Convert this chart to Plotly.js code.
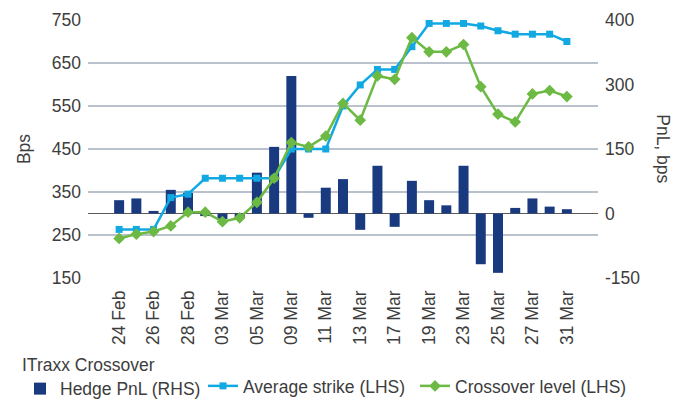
<!DOCTYPE html>
<html>
<head>
<meta charset="utf-8">
<script src="https://cdn.plot.ly/plotly-3.0.1.min.js"></script>
<style>html,body{margin:0;padding:0;background:#fff;}#chart{width:687px;height:400px;}</style>
</head>
<body>
<div id="chart"></div>
<script>
const dates = ["24 Feb","25 Feb","26 Feb","27 Feb","28 Feb","02 Mar","03 Mar","04 Mar","05 Mar","06 Mar",
  "09 Mar","10 Mar","11 Mar","12 Mar","13 Mar","16 Mar","17 Mar","18 Mar","19 Mar","20 Mar",
  "23 Mar","24 Mar","25 Mar","26 Mar","27 Mar","30 Mar","31 Mar"];
const hedgePnL = [31,35,6,55,48,-6,-13,-10,95,155,
  320,-10,60,80,-38,111,-31,76,31,19,
  111,-118,-138,13,35,16,10];
const averageStrike = [263,263,263,337,345,382,382,382,382,382,
  450,450,450,550,599,635,635,688,742,742,
  742,736,725,717,717,717,700];
const crossoverLevel = [242,252,258,271,303,303,281,290,326,382,
  465,455,480,556,517,620,612,709,676,676,
  693,595,531,513,578,586,572];
const xTickLabels = ["24 Feb","26 Feb","28 Feb","03 Mar","05 Mar","09 Mar","11 Mar","13 Mar","17 Mar","19 Mar","23 Mar","25 Mar","27 Mar","31 Mar"];
const leftTicks = [150,250,350,450,550,650,750];
const rightTickVals = [-150,0,150,300,450];
const rightTickText = ["-150","0","150","300","400"];

const FONT = "Liberation Sans, Arial, sans-serif";
const TXT = "#3d3d3d";
const FS = 17.5;

const traces = [
  {type:"bar", name:"Hedge PnL (RHS)", x:dates, y:hedgePnL, yaxis:"y", legend:"legend",
   marker:{color:"#1a3a80"}},
  {type:"scatter", mode:"lines+markers", name:"Average strike (LHS)", x:dates, y:averageStrike, yaxis:"y2", legend:"legend2",
   line:{color:"#12a9e3", width:2.5}, marker:{symbol:"square", size:7, color:"#12a9e3"}},
  {type:"scatter", mode:"lines+markers", name:"Crossover level (LHS)", x:dates, y:crossoverLevel, yaxis:"y2", legend:"legend3",
   line:{color:"#6cb944", width:2.5}, marker:{symbol:"diamond", size:9, color:"#6cb944"}}
];

const legBase = {orientation:"h", xref:"container", yref:"container", xanchor:"left", yanchor:"top",
  font:{size:FS, color:TXT}, bgcolor:"rgba(0,0,0,0)"};

const layout = {
  width:687, height:400,
  margin:{l:88, r:89, t:20, b:122, autoexpand:false},
  paper_bgcolor:"#fff", plot_bgcolor:"#fff",
  font:{family:FONT, size:FS, color:TXT},
  bargap:0.42,
  showlegend:true,
  xaxis:{type:"category", tickmode:"array", tickvals:xTickLabels, ticktext:xTickLabels,
    tickangle:-90, showgrid:false, showline:false, zeroline:false, ticks:"", automargin:false,
    ticklabelstandoff:8, tickfont:{size:FS, color:TXT}},
  yaxis:{side:"right", range:[-150,450], tickmode:"array", tickvals:rightTickVals, ticktext:rightTickText,
    showgrid:false, zeroline:true, zerolinecolor:"#5a5a5a", zerolinewidth:1.5, showline:false, automargin:false,
    ticks:"", ticklabelstandoff:6, tickfont:{size:FS, color:TXT}},
  yaxis2:{overlaying:"y", side:"left", range:[150,750], tickmode:"array", tickvals:leftTicks,
    showgrid:true, gridcolor:"#b9c1cc", gridwidth:1.5, zeroline:false, showline:false, automargin:false,
    ticks:"", ticklabelstandoff:6, tickfont:{size:FS, color:TXT},
    title:{text:"Bps", standoff:16, font:{size:FS, color:TXT}}},
  legend:Object.assign({}, legBase, {x:20/687, y:1-348/400,
    title:{text:"ITraxx Crossover", side:"top", font:{size:FS, color:TXT}}}),
  legend2:Object.assign({}, legBase, {x:203/687, y:1-368/400}),
  legend3:Object.assign({}, legBase, {x:415/687, y:1-368/400}),
  annotations:[
    {text:"PnL, bps", xref:"paper", yref:"paper", x:1.127, y:0.5, xanchor:"center", yanchor:"middle",
     textangle:90, showarrow:false, font:{size:FS, color:TXT}}
  ]
};

Plotly.newPlot("chart", traces, layout, {displayModeBar:false, staticPlot:true});
</script>
</body>
</html>
